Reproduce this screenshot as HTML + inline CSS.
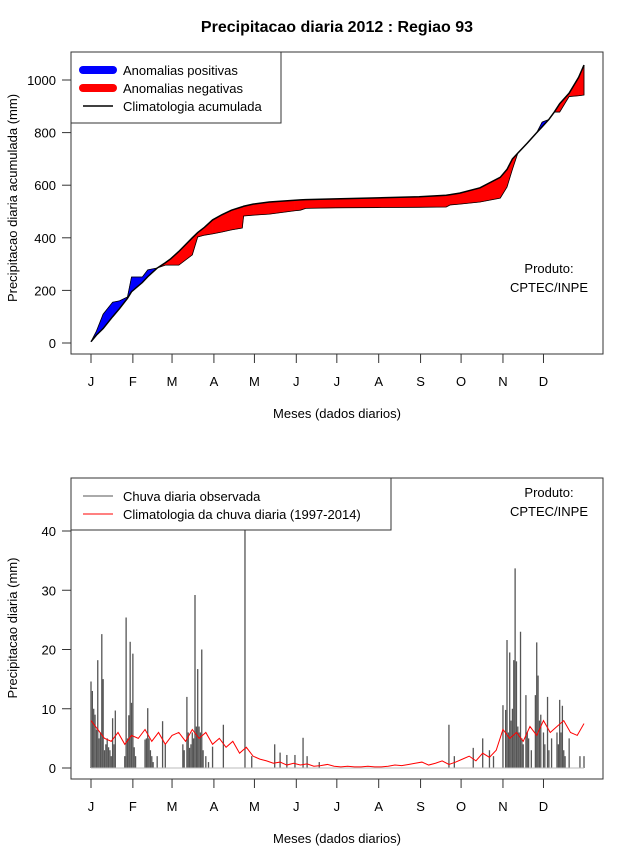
<!DOCTYPE html>
<html><head><meta charset="utf-8"><style>
body{margin:0;background:#fff;}
svg{display:block;font-family:"Liberation Sans",sans-serif;}
</style></head><body>
<svg id="c" width="640" height="850" xmlns="http://www.w3.org/2000/svg">
<text x="337" y="32" text-anchor="middle" font-size="16" font-weight="bold">Precipitacao diaria 2012 : Regiao 93</text>
<g id="top"></g>
<g id="bot"></g>
</svg>
<script>
const monthLabels=["J","F","M","A","M","J","J","A","S","O","N","D"];
const monthStartDays=[1,32,61,92,122,153,183,214,245,275,306,336];
// top chart data
const cumDays=[1,5,10,17,22,28,31,39,43,50,56,60,66,76,80,85,91,98,105,113,114,121,133,152,156,160,182,213,244,264,267,274,289,304,309,313,317,324,331,335,340,344,348,355,362,366];
const climCum=[5,30,55,100,130,170,195,230,252,285,305,320,348,400,420,440,468,488,505,518,520,528,536,543,544,545,548,552,556,562,564,570,590,630,660,700,722,760,800,822,850,878,910,950,1010,1057];
const obsCum=[5,45,110,155,160,175,251,251,278,285,296,296,296,335,403,410,415,422,430,437,483,486,490,503,505,512,514,515,516,517,525,528,536,551,593,660,722,760,800,840,850,878,878,937,940,943];
const topTicks=[0,200,400,600,800,1000];
// bottom chart data
const rainDays=[1,2,3,4,5,6,7,8,9,10,11,12,13,14,15,16,17,18,19,26,27,28,29,30,31,32,33,34,41,42,43,44,45,46,47,50,54,56,69,70,72,73,74,75,76,77,78,79,80,81,82,83,84,86,88,91,99,115,120,137,141,146,152,158,161,170,266,270,284,291,296,299,306,308,309,310,311,312,313,314,315,316,317,318,319,320,321,323,324,325,327,330,331,332,333,334,336,337,339,340,342,346,347,348,349,350,351,352,355,363,366];
const rainVals=[14.6,13,10,9,6.5,18.2,5,6,22.6,15,3,4,5,3.5,3,2,8.4,4,9.7,2,25.4,5,8.9,21.3,11,19.3,3.5,2,4.8,5,10.1,5,3,2,1,2,7.9,4,4,3,12,6,3.4,4,6,5,29.2,7,16.7,7,6,20,3,2,1,3.6,7.3,55,2,4,2.6,2.2,2.2,5.1,2,1,7.3,2,3.4,5,3,2,10.6,9.8,21.6,6,19.5,8,10,18.2,33.7,18,7,6,23,5,4,12.3,6,5,3,12.3,21.2,15.6,8,9,6,4,12,3,5,6,4,11.5,6,10.5,3,2,5,2,2];
const climDaily=[8,6.5,5,4.5,6,4,5.5, 5,6.5,4.5,6,4,5.5, 6,4.5,6.5,5,6,4, 5,3.5,4.5,2.5,3.5,2, 1.5,1.2,0.8,1,0.5,0.8, 0.5,0.7,0.3,0.4,0.6,0.3, 0.2,0.3,0.2,0.2,0.3,0.2, 0.2,0.3,0.5,0.4,0.6,0.8, 1,0.5,0.8,1.2,0.6,1, 1.5,2,1.2,2.5,1.8,3,6.5, 5,6,4.5,7,5.5,8,6,7, 8,6,5.5,7.5];
const climStep=5;
const botTicks=[0,10,20,30,40];

const NS="http://www.w3.org/2000/svg";
function mk(p,t,a){const e=document.createElementNS(NS,t);for(const k in a)e.setAttribute(k,a[k]);p.appendChild(e);return e;}
const L=71,R=603;
const X=d=>91+(d-1)*(493/365);

function frame(g,top,bot,y0,yscale,ticks,ylab,yc){
  const f=mk(g,'rect',{x:L,y:top,width:R-L,height:bot-top,fill:'none',stroke:'#333','stroke-width':1});
  
  
  monthStartDays.forEach((d,i)=>{
    const x=X(d);
    const t=mk(g,'line',{x1:x,x2:x,y1:bot,y2:bot+9,stroke:'#333'});
    
    
    const tx=mk(g,'text',{x:x,y:bot+32,'text-anchor':'middle','font-size':13});
    tx.textContent=monthLabels[i];
    
    
  });
  ticks.forEach(v=>{
    const y=y0-v*yscale;
    const t=mk(g,'line',{x1:L-9,x2:L,y1:y,y2:y,stroke:'#333'});
    
    
    const tx=mk(g,'text',{x:56,y:y+5,'text-anchor':'end','font-size':13});
    tx.textContent=v;
    
    
  });
  const xl=mk(g,'text',{x:337,y:bot+64,'text-anchor':'middle','font-size':13});
  xl.textContent='Meses (dados diarios)';
  
  
  const yl=mk(g,'text',{x:0,y:0,'text-anchor':'middle','font-size':13,transform:`translate(17,${yc}) rotate(-90)`});
  yl.textContent=ylab;
  
  
}

// TOP
const gt=document.getElementById('top');
const tY0=343,tS=0.263;
const TY=v=>tY0-v*tS;
for(let i=0;i<cumDays.length-1;i++){
  const x1=X(cumDays[i]),x2=X(cumDays[i+1]);
  const diff=(obsCum[i]-climCum[i])+(obsCum[i+1]-climCum[i+1]);
  const p=mk(gt,'polygon',{points:`${x1},${TY(climCum[i])} ${x2},${TY(climCum[i+1])} ${x2},${TY(obsCum[i+1])} ${x1},${TY(obsCum[i])}`,fill:diff>0?'#0000ff':'#ff0000',stroke:diff>0?'#0000ff':'#ff0000','stroke-width':0.5});
  
  
}
const obsLine=mk(gt,'polyline',{points:cumDays.map((d,i)=>X(d)+','+TY(obsCum[i])).join(' ')+' '+X(366)+','+TY(climCum[climCum.length-1]),fill:'none',stroke:'#000','stroke-width':0.8});


const climLine=mk(gt,'polyline',{points:cumDays.map((d,i)=>X(d)+','+TY(climCum[i])).join(' '),fill:'none',stroke:'#000','stroke-width':1.5});


frame(gt,52,354,tY0,tS,topTicks,'Precipitacao diaria acumulada (mm)',198);

// BOTTOM
const gb=document.getElementById('bot');
const bY0=768,bS=5.925;
const BY=v=>Math.max(478,bY0-v*bS);
rainDays.forEach((d,i)=>{
  const b=mk(gb,'line',{x1:X(d),x2:X(d),y1:bY0,y2:BY(rainVals[i]),stroke:'#555','stroke-width':1.3});
  
  
});
const base=mk(gb,'line',{x1:X(1),x2:X(366),y1:bY0,y2:bY0,stroke:'#bbb','stroke-width':1});


const cl=mk(gb,'polyline',{points:climDaily.map((v,i)=>X(1+i*climStep)+','+BY(v)).join(' '),fill:'none',stroke:'#ff0000','stroke-width':1});


frame(gb,478,779,bY0,bS,botTicks,'Precipitacao diaria (mm)',628);

// legends
function legend(g,x,y,w,h,items,name){
  const lg=mk(g,'g',{});
  
  
  mk(lg,'rect',{x:x,y:y,width:w,height:h,fill:'#fff',stroke:'#333'});
  items.forEach((it,i)=>{
    const yy=y+18+i*18;
    const ln=mk(lg,'line',{x1:x+12,x2:x+42,y1:yy,y2:yy,stroke:it.c,'stroke-width':it.w,'stroke-linecap':it.w>3?'round':'butt'});
    
    
    const t=mk(lg,'text',{x:x+52,y:yy+5,'font-size':13});
    t.textContent=it.t;
    
    
  });
}
legend(gt,71,52,210,71,[{c:'#0000ff',w:8,t:'Anomalias positivas'},{c:'#ff0000',w:8,t:'Anomalias negativas'},{c:'#000',w:1.5,t:'Climatologia acumulada'}],'top-legend');
legend(gb,71,478,320,52,[{c:'#555',w:1,t:'Chuva diaria observada'},{c:'#ff0000',w:1,t:'Climatologia da chuva diaria (1997-2014)'}],'bottom-legend');

function credit(g,y){
  [['Produto:',y],['CPTEC/INPE',y+19]].forEach(([s,yy])=>{
    const t=mk(g,'text',{x:549,y:yy,'text-anchor':'middle','font-size':13});
    t.textContent=s;
    
    
  });
}
credit(gt,273);credit(gb,497);
</script>
</body></html>
